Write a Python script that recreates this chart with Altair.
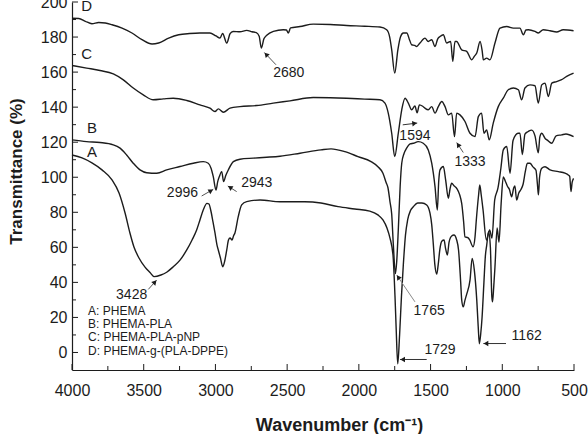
import math

import altair as alt
import pandas as pd

# ---- FTIR spectra: wavenumber (cm-1) and transmittance (%) ----
a_wn = [4000, 3930, 3861, 3791, 3721, 3672, 3630, 3596, 3568, 3533, 3491, 3456, 3428, 3380,
        3340, 3294, 3247, 3200, 3163, 3131, 3108, 3085, 3059, 3045, 3033, 3017, 3003, 2989,
        2980, 2965, 2949, 2937, 2921, 2909, 2898, 2884, 2874, 2864, 2841, 2817, 2782, 2689,
        2550, 2378, 2264, 2145, 2029, 1924, 1867, 1832, 1804, 1783, 1762, 1748, 1740, 1729,
        1716, 1703, 1690, 1675, 1660, 1640, 1620, 1590, 1560, 1527, 1504, 1492, 1481, 1470,
        1457, 1447, 1435, 1422, 1406, 1396, 1383, 1371, 1353, 1337, 1318, 1305, 1290, 1283,
        1272, 1260, 1248, 1225, 1210, 1195, 1178, 1168, 1160, 1150, 1141, 1128, 1118, 1109,
        1095, 1083, 1073, 1068, 1060, 1051, 1036, 1023, 1008, 993, 980, 965, 950, 935, 920,
        912, 900, 885, 870, 855, 840, 825, 807, 786, 765, 755, 748, 740, 725, 702, 667, 609,
        563, 540, 530, 521, 513, 503]
a_tr = [112.7, 111.0, 108.2, 104.2, 98.5, 91.0, 79.6, 68.2, 60.2, 53.9, 48.7, 45.6, 43.3, 44.2,
        45.8, 48.9, 52.7, 58.5, 64.2, 69.9, 75.6, 81.3, 85.1, 84.7, 81.3, 74.5, 68.2, 61.3,
        58.5, 53.9, 48.9, 51.6, 58.5, 64.2, 65.3, 64.2, 66.5, 68.2, 77.5, 84.2, 86.1, 87.0,
        86.0, 86.0, 85.3, 83.2, 81.9, 80.7, 78.5, 75.6, 71.0, 65.3, 55.6, 32.0, 14.0, -6.5,
        10.0, 32.0, 50.0, 67.0, 75.6, 81.0, 83.2, 85.3, 85.3, 84.2, 79.5, 73.0, 62.0, 50.0,
        44.7, 50.0, 59.0, 63.5, 64.2, 59.6, 55.6, 63.0, 66.5, 67.0, 64.2, 58.5, 40.0, 30.0,
        26.0, 29.9, 33.3, 41.3, 53.7, 47.0, 30.0, 15.0, 5.0, 11.0, 20.0, 40.0, 55.0, 61.0,
        68.9, 60.0, 32.0, 28.9, 37.0, 48.9, 71.0, 63.0, 85.0, 100.2, 98.0, 95.0, 93.0, 88.9, 94.0,
        95.0, 87.0, 91.0, 93.0, 96.0, 103.0, 108.0, 108.0, 105.9, 104.0, 96.0, 90.0, 100.0,
        105.1, 106.0, 104.2, 103.2, 102.3, 101.3, 100.5, 91.8, 97.0, 99.4]

b_wn = [4000, 3898, 3805, 3712, 3665, 3619, 3573, 3526, 3479, 3409, 3340, 3247, 3154, 3085,
        3050, 3030, 3015, 2996, 2984, 2973, 2956, 2943, 2928, 2910, 2875, 2829, 2736, 2643,
        2550, 2410, 2264, 2194, 2097, 2006, 1915, 1867, 1832, 1810, 1797, 1783, 1771, 1760,
        1745, 1736, 1725, 1712, 1701, 1685, 1667, 1643, 1620, 1586, 1551, 1516, 1492, 1469,
        1453, 1443, 1434, 1411, 1395, 1376, 1365, 1353, 1335, 1318, 1283, 1270, 1260, 1240,
        1227, 1204, 1190, 1181, 1165, 1157, 1147, 1134, 1111, 1088, 1072, 1053, 1030, 1010,
        993, 969, 946, 925, 890, 877, 860, 842, 819, 795, 772, 749, 738, 725, 700, 688, 655,
        625, 586, 556, 503]
b_tr = [121.3, 120.3, 119.8, 118.5, 116.6, 112.7, 108.0, 104.2, 102.6, 102.3, 104.2, 106.1,
        108.0, 108.9, 108.0, 105.0, 100.3, 92.7, 97.5, 100.3, 103.2, 97.5, 101.0, 104.2, 108.9,
        110.3, 110.9, 111.4, 112.0, 113.7, 115.6, 116.2, 114.6, 111.8, 108.9, 106.0, 102.3,
        97.0, 94.0, 86.0, 79.0, 62.0, 45.0, 52.0, 70.0, 95.0, 108.0, 113.5, 116.6, 119.0, 119.4,
        120.3, 119.4, 115.6, 108.0, 94.6, 81.3, 98.0, 104.2, 106.1, 98.5, 88.0, 93.0, 96.6,
        95.0, 93.7, 85.1, 75.0, 66.0, 65.5, 64.2, 60.3, 66.0, 75.6, 90.0, 95.6, 90.0, 81.3,
        64.2, 69.9, 65.3, 87.0, 93.9, 105.0, 115.6, 117.5, 102.3, 121.0, 125.1, 125.1, 113.0,
        124.6, 126.1, 126.9, 123.6, 114.0, 123.0, 125.1, 122.0, 121.3, 119.4, 123.6, 124.2,
        124.7, 123.2]

c_wn = [4000, 3898, 3805, 3712, 3642, 3573, 3503, 3433, 3363, 3294, 3200, 3108, 3038, 3003,
        2980, 2945, 2898, 2829, 2712, 2597, 2480, 2318, 2200, 2085, 1960, 1853, 1818, 1795,
        1771, 1750, 1725, 1701, 1678, 1655, 1632, 1609, 1594, 1578, 1555, 1539, 1516, 1492,
        1469, 1446, 1422, 1399, 1376, 1353, 1333, 1318, 1295, 1260, 1225, 1190, 1167, 1144,
        1128, 1109, 1091, 1063, 1028, 993, 958, 923, 888, 865, 842, 807, 772, 749, 725, 702,
        679, 655, 621, 590, 551, 503]
c_tr = [163.8, 162.3, 160.9, 159.0, 155.6, 150.9, 147.0, 144.2, 144.7, 145.1, 143.8, 141.3,
        139.4, 137.5, 139.0, 137.1, 139.4, 140.3, 140.9, 142.3, 143.6, 145.5, 145.4, 145.1,
        144.6, 144.2, 142.3, 136.6, 125.1, 111.8, 125.1, 138.5, 145.1, 142.3, 138.5, 140.7,
        136.8, 141.3, 140.5, 139.4, 138.5, 140.3, 136.6, 140.3, 143.2, 140.3, 135.6, 136.6,
        123.2, 136.6, 135.6, 131.8, 125.1, 123.2, 134.6, 136.6, 125.1, 127.0, 121.3, 130.9,
        140.3, 145.1, 149.9, 150.9, 149.9, 144.2, 150.9, 152.7, 152.2, 142.3, 152.7, 153.7,
        146.1, 153.7, 154.6, 155.5, 157.5, 159.4]

d_wn = [4000, 3953, 3907, 3861, 3814, 3768, 3721, 3651, 3582, 3512, 3442, 3396, 3326, 3256,
        3180, 3108, 3038, 2996, 2968, 2950, 2921, 2898, 2877, 2829, 2782, 2745, 2715, 2695,
        2680, 2662, 2642, 2596, 2527, 2505, 2492, 2476, 2410, 2318, 2200, 2085, 1960, 1853,
        1806, 1785, 1771, 1750, 1728, 1710, 1690, 1666, 1645, 1632, 1610, 1597, 1574, 1539,
        1516, 1492, 1469, 1450, 1434, 1411, 1388, 1360, 1345, 1330, 1318, 1283, 1248, 1213,
        1195, 1178, 1155, 1140, 1132, 1109, 1086, 1051, 1016, 969, 923, 877, 853, 835, 818,
        772, 749, 714, 667, 621, 575, 503]
d_tr = [190.7, 190.6, 189.0, 187.6, 188.3, 188.0, 187.0, 185.1, 182.3, 178.5, 176.0, 176.6,
        179.4, 181.3, 182.0, 182.3, 182.3, 180.6, 179.4, 182.0, 176.6, 181.9, 183.2, 183.0,
        183.8, 183.0, 182.5, 180.5, 173.7, 179.0, 181.0, 183.2, 184.2, 184.0, 182.3, 185.2,
        186.0, 187.4, 187.2, 186.6, 186.2, 185.7, 184.2, 180.0, 172.7, 159.4, 172.7, 180.0,
        182.3, 182.3, 178.0, 175.6, 175.2, 174.6, 176.6, 179.4, 177.5, 178.5, 174.6, 179.0,
        180.3, 181.3, 176.6, 177.5, 166.1, 177.5, 177.5, 172.7, 171.8, 167.0, 169.0, 170.9,
        177.5, 172.0, 167.0, 168.0, 167.0, 176.6, 185.1, 186.0, 185.1, 185.1, 181.3, 184.0,
        184.2, 183.2, 182.3, 184.2, 183.6, 182.9, 184.2, 183.6]

# ---- text on the plot ----
curve_letters = ["A", "B", "C", "D"]
letter_wn = [3861, 3861, 3898, 3898]
letter_tr = [114.6, 128.2, 170.6, 197.5]

legend_lines = ["A: PHEMA", "B: PHEMA-PLA", "C: PHEMA-PLA-pNP", "D: PHEMA-g-(PLA-DPPE)"]
legend_wn = [3888, 3888, 3888, 3888]
legend_tr = [23.6, 16.1, 8.9, 0.7]

# band labels and the arrows that point at the bands
ann_label = ["2680", "2996", "2943", "3428", "1594", "1333", "1765", "1729", "1162"]
ann_wn = [2489, 3230, 2712, 3584, 1609, 1225, 1510, 1434, 830]
ann_tr = [159.4, 91.2, 96.9, 32.7, 123.8, 108.9, 23.8, 1.3, 9.3]
arrow_from_wn = [2578, 3096, 2852, 3468, 1694, 1272, 1609, 1527, 974]
arrow_from_tr = [164.2, 89.3, 91.8, 36.0, 129.9, 114.1, 28.9, -4.0, 5.1]
arrow_to_wn = [2659, 3015, 2914, 3410, 1593, 1318, 1736, 1713, 1132]
arrow_to_tr = [171.2, 93.1, 95.0, 41.3, 130.9, 119.8, 44.2, -4.0, 5.1]
arrow_color = ["#555555", "#555555", "#555555", "#555555", "#333333", "#555555",
               "#8a8a8a", "#333333", "#333333"]

# ---- layout ----
PLOT_W, PLOT_H = 502, 368
WN_MIN, WN_MAX = 500, 4000
TR_MIN, TR_MAX = -10, 200
FONT = "Liberation Sans"
INK = "#1c1c1c"

X_SCALE = alt.Scale(domain=[WN_MIN, WN_MAX], reverse=True, nice=False, zero=False)
Y_SCALE = alt.Scale(domain=[TR_MIN, TR_MAX], nice=False, zero=False)


def to_px(w, t):
    return ((WN_MAX - w) / (WN_MAX - WN_MIN) * PLOT_W,
            (TR_MAX - t) / (TR_MAX - TR_MIN) * PLOT_H)


def to_data(px, py):
    return (WN_MAX - px / PLOT_W * (WN_MAX - WN_MIN),
            TR_MAX - py / PLOT_H * (TR_MAX - TR_MIN))


spectra = pd.concat([
    pd.DataFrame({"curve": name, "wn": wn, "tr": tr})
    for name, wn, tr in [("A", a_wn, a_tr), ("B", b_wn, b_tr),
                         ("C", c_wn, c_tr), ("D", d_wn, d_tr)]
])

# arrowheads: rotate a triangle along each arrow and set it back so its tip meets the target
head_rows = []
for fw, ft, tw, tt in zip(arrow_from_wn, arrow_from_tr, arrow_to_wn, arrow_to_tr):
    x0, y0 = to_px(fw, ft)
    x1, y1 = to_px(tw, tt)
    dx, dy = x1 - x0, y1 - y0
    length = math.hypot(dx, dy)
    ux, uy = dx / length, dy / length
    cw, ct = to_data(x1 - 2.6 * ux, y1 - 2.6 * uy)
    head_rows.append({"wn": cw, "tr": ct, "ang": math.degrees(math.atan2(dx, -dy)) % 360})
heads_df = pd.DataFrame(head_rows)

arrows_df = pd.DataFrame({"wn": arrow_from_wn, "tr": arrow_from_tr,
                          "wn2": arrow_to_wn, "tr2": arrow_to_tr, "col": arrow_color})

X_AXIS = alt.Axis(
    values=list(range(WN_MIN, WN_MAX + 1, 500)), format="d", title="Wavenumber (cm⁻¹)",
    ticks=False, grid=False, domainColor=INK, domainWidth=1.2,
    labelFont=FONT, labelFontSize=16, labelColor=INK, labelPadding=12,
    labelFlush=False, labelOverlap=False,
    titleFont=FONT, titleFontSize=18, titleFontWeight="bold", titleColor=INK,
    titleX=267, titleY=60, titleBaseline="alphabetic",
)
Y_AXIS = alt.Axis(
    values=list(range(0, TR_MAX + 1, 20)), format="d", title="Transmittance (%)",
    ticks=False, grid=False, domainColor=INK, domainWidth=1.2,
    labelFont=FONT, labelFontSize=16, labelColor=INK, labelPadding=5,
    labelOverlap=False,
    titleFont=FONT, titleFontSize=17, titleFontWeight="bold", titleColor=INK,
    titleX=-51, titleY=169, titleBaseline="alphabetic",
)


def wn_x(field="wn"):
    return alt.X(f"{field}:Q", scale=X_SCALE, axis=X_AXIS, title="Wavenumber (cm⁻¹)")


def tr_y(field="tr"):
    return alt.Y(f"{field}:Q", scale=Y_SCALE, axis=Y_AXIS, title="Transmittance (%)")


lines = alt.Chart(spectra).mark_line(
    color=INK, strokeWidth=1.4, interpolate="monotone"
).encode(
    x=wn_x(),
    y=tr_y(),
    detail="curve:N",
    order=alt.Order("wn:Q", sort="descending"),
)


def x_ticks(values, length):
    return alt.Chart(pd.DataFrame({"wn": values})).mark_rule(color=INK, strokeWidth=1).encode(
        x=wn_x(),
        y=alt.value(PLOT_H), y2=alt.value(PLOT_H - length),
    )


def y_ticks(values, length):
    return alt.Chart(pd.DataFrame({"tr": values})).mark_rule(color=INK, strokeWidth=1).encode(
        y=tr_y(),
        x=alt.value(0), x2=alt.value(length),
    )


tick_layers = [
    x_ticks(list(range(WN_MIN, WN_MAX + 1, 500)), 6),
    x_ticks(list(range(750, WN_MAX, 500)), 4),
    y_ticks(list(range(0, TR_MAX + 1, 20)), 6),
    y_ticks(list(range(10, TR_MAX, 20)), 4),
]

shafts = alt.Chart(arrows_df).mark_rule(strokeWidth=1).encode(
    x=wn_x(), x2="wn2:Q",
    y=tr_y(), y2="tr2:Q",
    color=alt.Color("col:N", scale=None),
)

heads = alt.Chart(heads_df).mark_point(
    shape="triangle-up", filled=True, size=30, color=INK, opacity=1
).encode(
    x=wn_x(),
    y=tr_y(),
    angle=alt.Angle("ang:Q", scale=None),
)


def label_layer(df, size, align):
    return alt.Chart(df).mark_text(
        font=FONT, fontSize=size, color=INK, align=align, baseline="middle"
    ).encode(x=wn_x(), y=tr_y(), text="t:N")


band_text = label_layer(pd.DataFrame({"wn": ann_wn, "tr": ann_tr, "t": ann_label}), 14, "center")
letters = label_layer(pd.DataFrame({"wn": letter_wn, "tr": letter_tr, "t": curve_letters}), 15, "center")
key_text = label_layer(pd.DataFrame({"wn": legend_wn, "tr": legend_tr, "t": legend_lines}), 12, "left")

chart = alt.layer(
    lines, *tick_layers, shafts, heads, band_text, letters, key_text
).properties(
    width=PLOT_W, height=PLOT_H,
    autosize=alt.AutoSizeParams(type="none"),
    padding={"left": 72, "top": 2, "right": 14, "bottom": 64},
    background="white",
).configure_view(strokeWidth=0)

chart.save("out.html", embed_options={"renderer": "svg", "actions": False})
